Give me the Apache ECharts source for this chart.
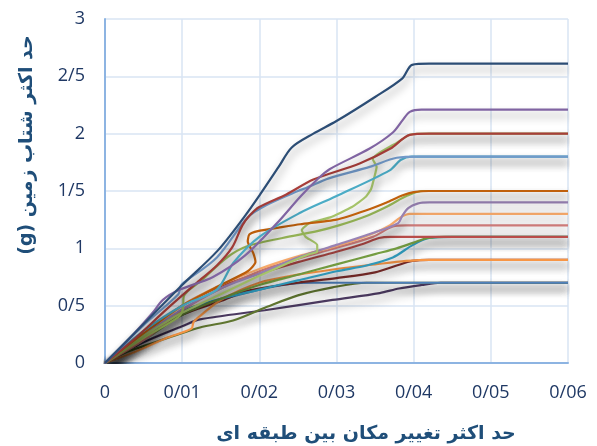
<!DOCTYPE html>
<html>
<head>
<meta charset="utf-8">
<script src="https://cdn.jsdelivr.net/npm/echarts@6/dist/echarts.min.js"></script>
<style>html,body{margin:0;padding:0;background:#fff}#c{width:597px;height:446px}</style>
</head>
<body>
<div id="c"></div>
<script>
const xTickLabels = ['0','0/01','0/02','0/03','0/04','0/05','0/06'];
const yTickLabels = ['0','0/5','1','1/5','2','2/5','3'];
const xTitle = 'حد اکثر تغییر مکان بین طبقه ای';
const yTitle = 'حد اکثر شتاب زمین (g)';

const dpurple = [[0,0],[0.005,0.18],[0.01,0.32],[0.0123,0.38],[0.0207,0.46],[0.0295,0.55],[0.0356,0.61],[0.0381,0.65],[0.041,0.68],[0.0435,0.70],[0.06,0.70]];
const olive = [[0,0],[0.003,0.1],[0.006,0.17],[0.0123,0.31],[0.0166,0.37],[0.021,0.49],[0.025,0.59],[0.0295,0.66],[0.0339,0.70],[0.06,0.70]];
const blue = [[0,0],[0.005,0.22],[0.01,0.42],[0.015,0.55],[0.02,0.64],[0.024,0.69],[0.027,0.70],[0.06,0.70]];
const maroon = [[0,0],[0.005,0.22],[0.01,0.42],[0.015,0.54],[0.0179,0.62],[0.02,0.65],[0.025,0.70],[0.03,0.74],[0.035,0.79],[0.0378,0.85],[0.0398,0.89],[0.042,0.90],[0.06,0.90]];
const orange = [[0,0],[0.004,0.1],[0.008,0.22],[0.0112,0.30],[0.0115,0.36],[0.0125,0.42],[0.015,0.55],[0.02,0.70],[0.025,0.77],[0.03,0.82],[0.035,0.86],[0.039,0.89],[0.042,0.90],[0.06,0.90]];
const teal = [[0,0],[0.005,0.22],[0.01,0.45],[0.015,0.56],[0.02,0.64],[0.025,0.72],[0.03,0.80],[0.0339,0.85],[0.0373,0.92],[0.0399,1.03],[0.042,1.09],[0.045,1.10],[0.06,1.10]];
const green = [[0,0],[0.005,0.2],[0.01,0.42],[0.015,0.56],[0.02,0.68],[0.025,0.77],[0.03,0.86],[0.035,0.95],[0.0378,1.0],[0.04,1.05],[0.0418,1.09],[0.044,1.10],[0.06,1.10]];
const red = [[0,0],[0.005,0.24],[0.01,0.5],[0.015,0.67],[0.02,0.78],[0.025,0.88],[0.03,0.97],[0.0335,1.04],[0.0355,1.09],[0.037,1.10],[0.06,1.10]];
const pink = [[0,0],[0.005,0.2],[0.01,0.46],[0.015,0.65],[0.02,0.80],[0.025,0.91],[0.0292,0.99],[0.0347,1.10],[0.0373,1.19],[0.039,1.20],[0.06,1.20]];
const lorange = [[0,0],[0.005,0.22],[0.01,0.5],[0.015,0.68],[0.02,0.82],[0.025,0.93],[0.03,1.02],[0.0344,1.12],[0.0369,1.20],[0.0383,1.27],[0.0395,1.30],[0.06,1.30]];
const lpurple = [[0,0],[0.005,0.24],[0.01,0.47],[0.015,0.65],[0.02,0.78],[0.025,0.92],[0.03,1.03],[0.035,1.14],[0.038,1.22],[0.0385,1.28],[0.0393,1.35],[0.0405,1.39],[0.042,1.40],[0.06,1.40]];
const greenB = [[0,0],[0.005,0.24],[0.01,0.44],[0.015,0.6],[0.02,0.76],[0.024,0.88],[0.0265,0.95],[0.0275,0.97],[0.0275,1.03],[0.026,1.10],[0.0255,1.16],[0.0265,1.22],[0.0292,1.27],[0.032,1.36],[0.0338,1.45],[0.0345,1.52],[0.0349,1.62],[0.0352,1.71],[0.0347,1.78],[0.0355,1.83],[0.0378,1.92],[0.0395,1.99],[0.042,2.0],[0.06,2.0]];
const greenA = [[0,0],[0.005,0.22],[0.0095,0.40],[0.0101,0.47],[0.0102,0.58],[0.0125,0.72],[0.0158,0.92],[0.0185,1.02],[0.023,1.09],[0.0275,1.15],[0.0303,1.20],[0.0338,1.28],[0.0367,1.37],[0.0392,1.46],[0.0412,1.50],[0.06,1.50]];
const brown = [[0,0],[0.005,0.26],[0.01,0.5],[0.015,0.68],[0.0185,0.80],[0.0195,0.88],[0.0192,0.96],[0.0185,1.06],[0.0187,1.12],[0.0198,1.15],[0.0225,1.18],[0.0253,1.21],[0.03,1.25],[0.0338,1.33],[0.0365,1.40],[0.0385,1.46],[0.040,1.49],[0.042,1.50],[0.06,1.50]];
const cyan = [[0,0],[0.005,0.28],[0.01,0.50],[0.0145,0.64],[0.0166,0.87],[0.02,1.10],[0.0253,1.31],[0.0298,1.45],[0.0369,1.68],[0.0383,1.77],[0.0397,1.80],[0.06,1.80]];
const steel = [[0,0],[0.005,0.33],[0.0095,0.6],[0.0098,0.67],[0.0102,0.70],[0.0145,0.92],[0.0185,1.27],[0.021,1.38],[0.025,1.5],[0.0262,1.53],[0.029,1.61],[0.0343,1.71],[0.0378,1.79],[0.0408,1.80],[0.06,1.80]];
const darkRed = [[0,0],[0.004,0.22],[0.008,0.47],[0.0119,0.70],[0.0145,0.85],[0.0165,1.01],[0.0178,1.2],[0.0188,1.29],[0.02,1.36],[0.0235,1.47],[0.027,1.6],[0.033,1.74],[0.037,1.87],[0.0395,1.99],[0.042,2.0],[0.06,2.0]];
const purple = [[0,0],[0.003,0.2],[0.0062,0.44],[0.0075,0.55],[0.0097,0.64],[0.014,0.75],[0.0182,0.94],[0.0223,1.22],[0.0253,1.45],[0.0275,1.60],[0.0291,1.69],[0.0343,1.87],[0.0373,2.01],[0.0386,2.12],[0.0395,2.19],[0.041,2.21],[0.06,2.21]];
const navy = [[0,0],[0.005,0.34],[0.01,0.68],[0.0146,0.98],[0.018,1.27],[0.02,1.46],[0.0225,1.71],[0.0242,1.88],[0.027,2.0],[0.03,2.11],[0.035,2.32],[0.0385,2.48],[0.0398,2.6],[0.042,2.61],[0.06,2.61]];

const seriesList = [
  ['dpurple', dpurple, '#4D3B62', 0.3],
  ['olive', olive, '#5F7530', 0.3],
  ['blue', blue, '#4F81BD', 0.3],
  ['maroon', maroon, '#7F2E2C', 0.3],
  ['orange', orange, '#F79646', 0.3],
  ['teal', teal, '#33A3C6', 0.3],
  ['green', green, '#77A043', 0.3],
  ['red', red, '#C0504D', 0.3],
  ['pink', pink, '#D47F7D', 0.3],
  ['lorange', lorange, '#F9AB6B', 0.3],
  ['lpurple', lpurple, '#9983B5', 0.3],
  ['greenB', greenB, '#A6C46A', 0.15],
  ['greenA', greenA, '#9BBB59', 0.3],
  ['brown', brown, '#C0600C', 0.2],
  ['cyan', cyan, '#4BACC6', 0.3],
  ['steel', steel, '#729ACA', 0.3],
  ['darkRed', darkRed, '#A83E3A', 0.3],
  ['purple', purple, '#8064A2', 0.3],
  ['navy', navy, '#2C4D75', 0.3]
];

const labelColor = '#1F3864';
const chart = echarts.init(document.getElementById('c'), null, {renderer: 'canvas'});
chart.setOption({
  animation: false,
  grid: {left: 105, right: 29, top: 19, bottom: 83, containLabel: false},
  xAxis: {
    type: 'value', min: 0, max: 0.06, interval: 0.01,
    axisLine: {show: true, lineStyle: {color: '#8DB4E2', width: 2}},
    axisTick: {show: false},
    splitLine: {show: true, lineStyle: {color: '#D9E4F3', width: 1.5}},
    axisLabel: {
      margin: 21, color: labelColor, fontSize: 18, fontFamily: 'Open Sans',
      formatter: v => xTickLabels[Math.round(v / 0.01)]
    }
  },
  yAxis: {
    type: 'value', min: 0, max: 3, interval: 0.5,
    axisLine: {show: true, lineStyle: {color: '#8DB4E2', width: 2}},
    axisTick: {show: false},
    splitLine: {show: true, lineStyle: {color: '#D9E4F3', width: 1.5}},
    axisLabel: {
      margin: 20, color: labelColor, fontSize: 18, fontFamily: 'Open Sans',
      formatter: v => yTickLabels[Math.round(v / 0.5)]
    }
  },
  graphic: [
    {type: 'text', x: 366, y: 434, style: {
      text: xTitle, fill: '#1F4E79', font: 'bold 19px "DejaVu Sans"', textAlign: 'center', textVerticalAlign: 'middle'}},
    {type: 'text', x: 27, y: 145, rotation: Math.PI / 2, style: {
      text: '\u202B' + yTitle + '\u202C', fill: '#1F4E79', font: 'bold 19px "DejaVu Sans"',
      textAlign: 'center', textVerticalAlign: 'middle'}}
  ],
  series: seriesList.map(([name, data, color, sm]) => ({
    name, type: 'line', data, smooth: sm, showSymbol: false, symbol: 'none',
    lineStyle: {color, width: 2.2, shadowColor: 'rgba(0,0,0,0.4)', shadowBlur: 8, shadowOffsetX: 1, shadowOffsetY: 6},
    itemStyle: {color}
  }))
});
</script>
</body>
</html>
